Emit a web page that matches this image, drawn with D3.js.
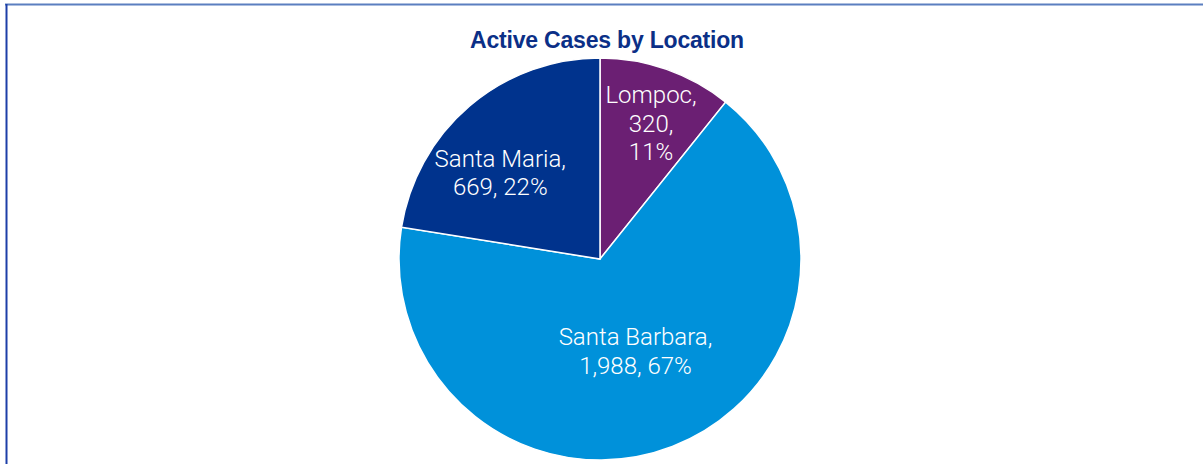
<!DOCTYPE html>
<html>
<head>
<meta charset="utf-8">
<script src="https://cdn.jsdelivr.net/npm/d3@7"></script>
<style>
  body { margin: 0; background: #fff; }
  svg { display: block; }
</style>
</head>
<body>
<div id="chart"></div>
<script>
// chart data
var locations = ["Lompoc", "Santa Barbara", "Santa Maria"];
var cases = [320, 1988, 669];
var sliceColors = ["#6b1f73", "#0091da", "#00338d"];
var chartTitle = "Active Cases by Location";

// where each label breaks into lines, how far out it sits, and angle nudge (deg)
var labelBreaks = [[1, 2], [1], [1]];
var labelRadius = [0.72, 0.49, 0.656];
var labelNudge = [1.3, 0, -8.7];

function drawPie(placement, w, h) {
    var width = w, height = h;
    var cx = 600, cy = 259, radius = 201;

    var svg = d3.select(placement).append("svg")
        .attr("width", width).attr("height", height)
        .attr("viewBox", [0, 0, width, height]);

    // frame lines
    svg.append("line")
        .attr("x1", 5).attr("x2", width).attr("y1", 4.5).attr("y2", 4.5)
        .style("stroke", "#5b7fc0").style("stroke-width", 2);
    svg.append("line")
        .attr("x1", 6.5).attr("x2", 6.5).attr("y1", 4).attr("y2", height)
        .style("stroke", "#1d3fa8").style("stroke-width", 2);

    svg.append("text")
        .attr("x", cx + 7)
        .attr("y", 48)
        .attr("text-anchor", "middle")
        .attr("font-family", "'Liberation Sans', Arial, sans-serif")
        .attr("font-weight", "bold")
        .attr("font-size", "23px")
        .attr("letter-spacing", "-0.2px")
        .style("fill", "#0b2f87")
        .text(chartTitle);

    var total = d3.sum(cases);
    var data = locations.map(function(name, i) {
        return {name: name, value: cases[i], color: sliceColors[i], idx: i};
    });

    var pie = d3.pie().sort(null).value(function(d) { return d.value; });
    var arc = d3.arc().innerRadius(0).outerRadius(radius);

    var g = svg.append("g").attr("transform", "translate(" + cx + "," + cy + ")");

    var arcs = pie(data);

    g.selectAll(".slice")
        .data(arcs)
        .enter().append("path")
        .attr("class", "slice")
        .attr("d", arc)
        .style("fill", function(d) { return d.data.color; })
        .style("stroke", "#fff")
        .style("stroke-width", 1.5);

    var fmtNum = d3.format(",");
    var fmtPct = d3.format(".0%");
    var fs = 24;

    g.selectAll(".label")
        .data(arcs)
        .enter().append("text")
        .attr("class", "label")
        .attr("text-anchor", "middle")
        .attr("font-family", "Roboto, 'Liberation Sans', sans-serif")
        .attr("font-weight", 300)
        .attr("font-size", fs + "px")
        .style("fill", "#fff")
        .each(function(d) {
            var parts = [d.data.name + ",", fmtNum(d.data.value) + ",", fmtPct(d.data.value / total)];
            var breaks = labelBreaks[d.data.idx];
            var lines = [], cur = [];
            parts.forEach(function(p, j) {
                cur.push(p);
                if (breaks.indexOf(j + 1) >= 0 || j == parts.length - 1) {
                    lines.push(cur.join(" "));
                    cur = [];
                }
            });
            var r = radius * labelRadius[d.data.idx];
            var a = (d.startAngle + d.endAngle) / 2 + labelNudge[d.data.idx] * Math.PI / 180;
            var px = Math.sin(a) * r, py = -Math.cos(a) * r;
            var lh = 28.5;
            var top = py - (lines.length - 1) * lh / 2;
            var t = d3.select(this);
            lines.forEach(function(l, k) {
                t.append("tspan")
                    .attr("x", px)
                    .attr("y", top + k * lh)
                    .attr("dy", "0.35em")
                    .text(l);
            });
        });
}

drawPie("#chart", 1203, 464);
</script>
</body>
</html>
